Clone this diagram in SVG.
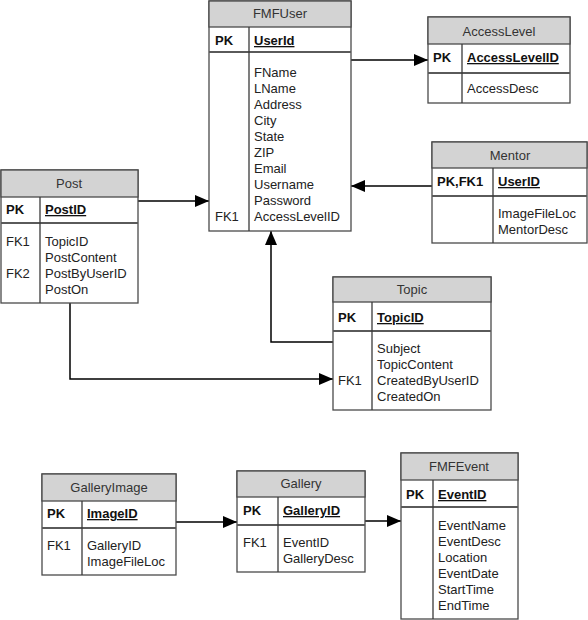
<svg xmlns="http://www.w3.org/2000/svg" width="588" height="620" viewBox="0 0 588 620">
<defs>
<style>
.box{fill:#fff;stroke:#4a4a4a;stroke-width:1.3}
.ttl{fill:#d3d3d3;stroke:#4a4a4a;stroke-width:1.3}
.sep{stroke:#5a5a5a;stroke-width:1.8;fill:none}
.div{stroke:#3a3a3a;stroke-width:1.3;fill:none}
text{font-family:"Liberation Sans",Arial,sans-serif;font-size:13px;fill:#222}
.t{fill:#333;text-anchor:middle}
.pk{font-weight:bold;fill:#111}
.u{font-weight:bold;fill:#111;text-decoration:underline}
.c{stroke:#000;stroke-width:1.5;fill:none;marker-end:url(#ah)}
</style>
<marker id="ah" markerUnits="userSpaceOnUse" markerWidth="14" markerHeight="12" refX="14" refY="6" orient="auto">
<path d="M0,0 L14,6 L0,12 z" fill="#000"/>
</marker>
</defs>
<rect width="588" height="620" fill="#fff"/>

<g id="connectors">
<path class="c" d="M351,60 L428,60"/>
<path class="c" d="M432,186 L351,186"/>
<path class="c" d="M138,201 L209,201"/>
<path class="c" d="M70,303 L70,379 L333,379"/>
<path class="c" d="M333,342 L271,342 L271,231"/>
<path class="c" d="M176,522 L237,522"/>
<path class="c" d="M365,521 L401,521"/>
</g>

<g id="FMFUser">
<rect class="box" x="209" y="1" width="142" height="230"/>
<rect class="ttl" x="209" y="1" width="142" height="26"/>
<line class="sep" x1="209" y1="52" x2="351" y2="52"/>
<line class="div" x1="249" y1="27" x2="249" y2="231"/>
<text class="t" x="280" y="18">FMFUser</text>
<text class="pk" x="215" y="45">PK</text>
<text class="u" x="254" y="45">UserId</text>
<text x="254" y="77">FName</text>
<text x="254" y="93">LName</text>
<text x="254" y="109">Address</text>
<text x="254" y="125">City</text>
<text x="254" y="141">State</text>
<text x="254" y="157">ZIP</text>
<text x="254" y="173">Email</text>
<text x="254" y="189">Username</text>
<text x="254" y="205">Password</text>
<text x="215" y="221">FK1</text>
<text x="254" y="221">AccessLevelID</text>
</g>

<g id="AccessLevel">
<rect class="box" x="428" y="17" width="142" height="86"/>
<rect class="ttl" x="428" y="17" width="142" height="27"/>
<line class="sep" x1="428" y1="73" x2="570" y2="73"/>
<line class="div" x1="462" y1="44" x2="462" y2="103"/>
<text class="t" x="499" y="36">AccessLevel</text>
<text class="pk" x="433" y="62">PK</text>
<text class="u" x="467" y="62">AccessLevelID</text>
<text x="467" y="93">AccessDesc</text>
</g>

<g id="Mentor">
<rect class="box" x="432" y="142" width="155" height="101"/>
<rect class="ttl" x="432" y="142" width="155" height="26"/>
<line class="sep" x1="432" y1="196" x2="587" y2="196"/>
<line class="div" x1="493" y1="168" x2="493" y2="243"/>
<text class="t" x="510" y="160">Mentor</text>
<text class="pk" x="437" y="186">PK,FK1</text>
<text class="u" x="498" y="186">UserID</text>
<text x="498" y="218">ImageFileLoc</text>
<text x="498" y="234">MentorDesc</text>
</g>

<g id="Post">
<rect class="box" x="1" y="170" width="137" height="133"/>
<rect class="ttl" x="1" y="170" width="137" height="27"/>
<line class="sep" x1="1" y1="223" x2="138" y2="223"/>
<line class="div" x1="40" y1="197" x2="40" y2="303"/>
<text class="t" x="69" y="188">Post</text>
<text class="pk" x="6" y="214">PK</text>
<text class="u" x="45" y="214">PostID</text>
<text x="6" y="246">FK1</text>
<text x="45" y="246">TopicID</text>
<text x="45" y="262">PostContent</text>
<text x="6" y="278">FK2</text>
<text x="45" y="278">PostByUserID</text>
<text x="45" y="294">PostOn</text>
</g>

<g id="Topic">
<rect class="box" x="333" y="277" width="158" height="133"/>
<rect class="ttl" x="333" y="277" width="158" height="25"/>
<line class="sep" x1="333" y1="331" x2="491" y2="331"/>
<line class="div" x1="372" y1="302" x2="372" y2="410"/>
<text class="t" x="412" y="294">Topic</text>
<text class="pk" x="338" y="322">PK</text>
<text class="u" x="377" y="322">TopicID</text>
<text x="377" y="353">Subject</text>
<text x="377" y="369">TopicContent</text>
<text x="338" y="385">FK1</text>
<text x="377" y="385">CreatedByUserID</text>
<text x="377" y="401">CreatedOn</text>
</g>

<g id="GalleryImage">
<rect class="box" x="42" y="474" width="134" height="101"/>
<rect class="ttl" x="42" y="474" width="134" height="27"/>
<line class="sep" x1="42" y1="528" x2="176" y2="528"/>
<line class="div" x1="82" y1="501" x2="82" y2="575"/>
<text class="t" x="109" y="492">GalleryImage</text>
<text class="pk" x="47" y="518">PK</text>
<text class="u" x="87" y="518">ImageID</text>
<text x="47" y="550">FK1</text>
<text x="87" y="550">GalleryID</text>
<text x="87" y="566">ImageFileLoc</text>
</g>

<g id="Gallery">
<rect class="box" x="237" y="471" width="128" height="101"/>
<rect class="ttl" x="237" y="471" width="128" height="26"/>
<line class="sep" x1="237" y1="525" x2="365" y2="525"/>
<line class="div" x1="278" y1="497" x2="278" y2="572"/>
<text class="t" x="301" y="488">Gallery</text>
<text class="pk" x="243" y="515">PK</text>
<text class="u" x="283" y="515">GalleryID</text>
<text x="243" y="547">FK1</text>
<text x="283" y="547">EventID</text>
<text x="283" y="563">GalleryDesc</text>
</g>

<g id="FMFEvent">
<rect class="box" x="401" y="453" width="117" height="166"/>
<rect class="ttl" x="401" y="453" width="117" height="27"/>
<line class="sep" x1="401" y1="507" x2="518" y2="507"/>
<line class="div" x1="433" y1="480" x2="433" y2="619"/>
<text class="t" x="459" y="471">FMFEvent</text>
<text class="pk" x="406" y="499">PK</text>
<text class="u" x="438" y="499">EventID</text>
<text x="438" y="530">EventName</text>
<text x="438" y="546">EventDesc</text>
<text x="438" y="562">Location</text>
<text x="438" y="578">EventDate</text>
<text x="438" y="594">StartTime</text>
<text x="438" y="610">EndTime</text>
</g>
</svg>
